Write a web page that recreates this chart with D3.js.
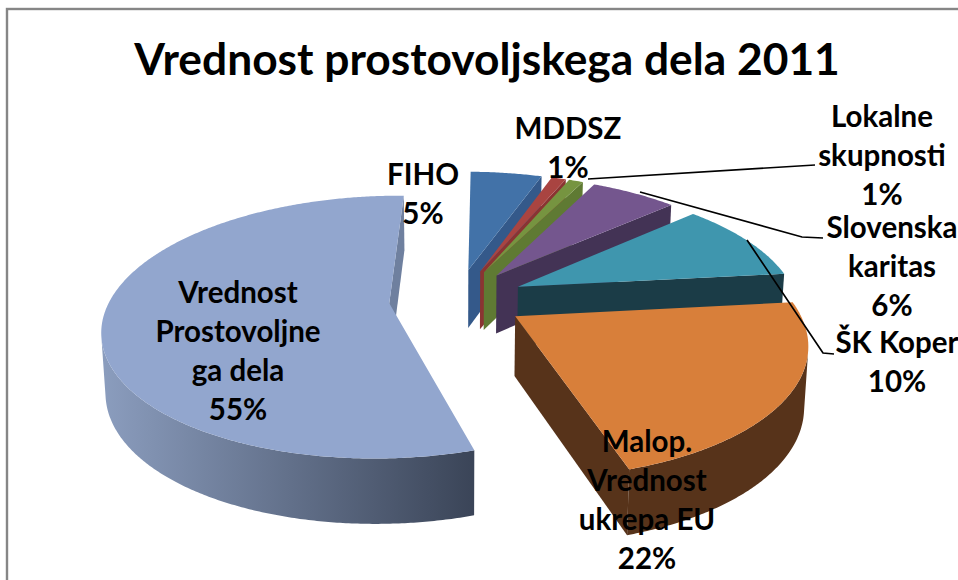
<!DOCTYPE html>
<html><head><meta charset="utf-8">
<script src="https://cdn.jsdelivr.net/npm/d3@7"></script>
<style>html,body{margin:0;padding:0;background:#fff;overflow:hidden}svg{display:block}text{font-family:Lato,"Open Sans",sans-serif;font-weight:700;fill:#000}</style>
</head><body><svg id="c" width="958" height="580"></svg>
<script>
const titleText = "Vrednost prostovoljskega dela 2011";
const categories = ["Vrednost Prostovoljne ga dela","FIHO","MDDSZ","Lokalne skupnosti","Slovenska karitas","ŠK Koper","Malop. Vrednost ukrepa EU"];
const values = [55,5,1,1,6,10,22];
const labelLines = [["Vrednost","Prostovoljne","ga dela"],["FIHO"],["MDDSZ"],["Lokalne","skupnosti"],["Slovenska","karitas"],["ŠK Koper"],["Malop.","Vrednost","ukrepa EU"]];
const topColors = ["#92a6ce","#4272a8","#a94441","#769440","#74568e","#3f96ae","#d87f3a"];
const wallColors = ["#5f6f8c","#34598a","#8a3432","#5f7a33","#433355","#1b3c47","#57331a"];
const labelX = [238,423,568,882,892,897,647];
const labelY = [303,185,139,127,238,353,452];
const leaders = [[[588,179],[815,165]],[[640,192],[802,237],[823,238]],[[747,240],[823,353],[834,354]]];

const svg = d3.select("#c");
const deg = Math.PI/180;
const vx=457, cy=299, k=0.45, D=1550, R=279, E=68, Zd=59, N=2;
const pie = d3.pie().sort(null).startAngle(163*deg).endAngle(523*deg);
const arcs = pie(values);
const line = d3.line();
function project(X,Y,Z){
  const s = 1/(1-Y/D), t = 1-0.012*Z/Zd;
  return [vx+X*s*t, cy+k*Y*s+Z*Math.sqrt(s)];
}
const area = p=>d3.polygonArea(p);

const grad = svg.append("defs").append("linearGradient").attr("id","sideGrad")
  .attr("gradientUnits","userSpaceOnUse").attr("x1",102).attr("x2",476).attr("y1",0).attr("y2",0);
grad.append("stop").attr("offset",0).attr("stop-color","#8b9dbe");
grad.append("stop").attr("offset",1).attr("stop-color","#3a4457");

svg.append("rect").attr("x",7).attr("y",9).attr("width",1000).attr("height",640).attr("fill","#fff").attr("stroke","#868686").attr("stroke-width",2.4);

const order = d3.range(values.length).sort((a,b)=>{
  const y=i=>-Math.cos((arcs[i].startAngle+arcs[i].endAngle)/2);
  return y(a)-y(b);
});
const gp = svg.append("g");
order.forEach(i=>{
  const d = arcs[i], mid=(d.startAngle+d.endAngle)/2;
  const ox=E*Math.sin(mid), oy=-E*Math.cos(mid);
  const P=(a,r,z)=>project(ox+r*Math.sin(a),oy-r*Math.cos(a),z);
  const angs=d3.range(d.startAngle,d.endAngle,deg/N).concat([d.endAngle]);
  const g=gp.append("g").attr("data-name",categories[i]);
  const wall=(a)=>[P(a,0,0),P(a,R,0),P(a,R,Zd),P(a,0,Zd)];
  [[d.startAngle,1],[d.endAngle,-1]].forEach(([a,sign])=>{
    const q=wall(a);
    if(area(q)*sign>0) g.append("path").attr("d",line(q)+"Z").attr("fill",i===0?"#6f809f":wallColors[i]);
  });
  const vis=[];
  for(let j=0;j<angs.length-1;j++){
    const q=[P(angs[j],R,0),P(angs[j+1],R,0),P(angs[j+1],R,Zd),P(angs[j],R,Zd)];
    if(area(q)>0){ if(!vis.length) vis.push(angs[j]); vis.push(angs[j+1]); }
  }
  if(vis.length){
    const poly=vis.map(a=>P(a,R,0)).concat(vis.slice().reverse().map(a=>P(a,R,Zd)));
    g.append("path").attr("d",line(poly)+"Z").attr("fill",i===0?"url(#sideGrad)":wallColors[i]);
  }
  const top=[P(0,0,0)].concat(angs.map(a=>P(a,R,0)));
  g.append("path").attr("d",line(top)+"Z").attr("fill",topColors[i]);
});

leaders.forEach(l=>svg.append("path").attr("d",line(l)).attr("fill","none").attr("stroke","#000").attr("stroke-width",1.7));

svg.append("text").text(titleText).attr("x",487).attr("y",75).attr("text-anchor","middle").attr("font-size",44.3);
categories.forEach((c,i)=>{
  const lines=labelLines[i].concat([values[i]+"%"]);
  const t=svg.append("text").attr("text-anchor","middle").attr("font-size",29.5);
  lines.forEach((s,j)=>t.append("tspan").attr("x",labelX[i]).attr("y",labelY[i]+j*39).text(s));
});
</script></body></html>
